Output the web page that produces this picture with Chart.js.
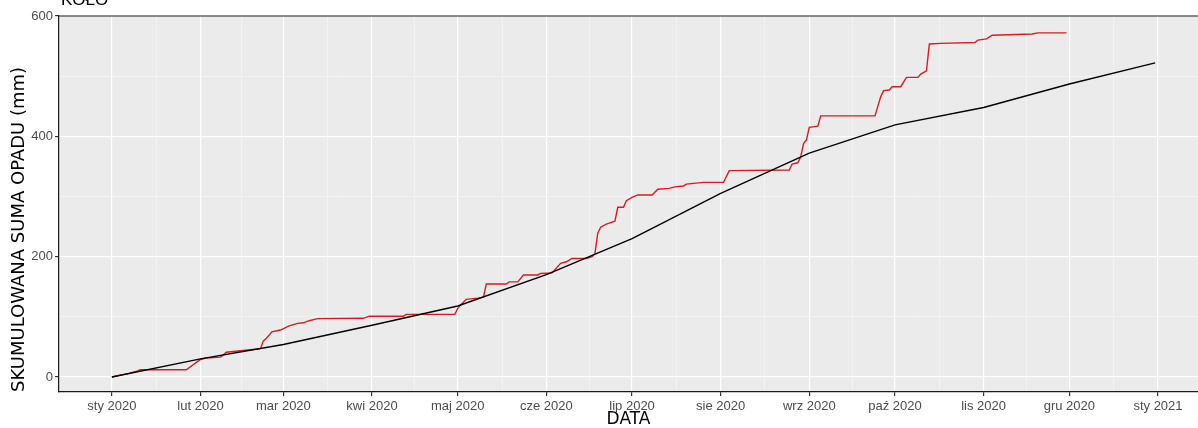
<html>
    <head>
        <meta http-equiv="content-type" content="text/html; charset=UTF-8">
        <script src="https://cdn.jsdelivr.net/npm/chart.js"></script>
        <title>Koło - skumulowana suma opadu 2020</title>
        <style>
            body { margin: 0; background: #ffffff; }
        </style>
    </head>
    <body>
        <div style="position: relative; width: 1198px; height: 428px">
            <canvas id="opad"></canvas>
        </div>

        <script>
            // days counted from 1 Jan 2020
            const monthDays = [0, 31, 60, 91, 121, 152, 182, 213, 244, 274, 305, 335, 366];
            const monthLabels = ['sty 2020', 'lut 2020', 'mar 2020', 'kwi 2020', 'maj 2020', 'cze 2020',
                                 'lip 2020', 'sie 2020', 'wrz 2020', 'paź 2020', 'lis 2020', 'gru 2020', 'sty 2021'];
            const yTicks = [0, 200, 400, 600];
            const yMinorTicks = [100, 300, 500];

            // multi-year normal, cumulative (mm)
            const normDays   = [0, 31, 60, 91, 121, 152, 182, 213, 244, 274, 305, 335, 365];
            const normValues = [0, 30, 54, 86, 118, 170, 230, 305, 372, 419, 448, 487, 522];

            // 2020 observed, cumulative (mm)
            const obsDays = [0, 3, 6, 9, 10, 26, 31, 33, 38, 39, 40, 51, 52, 53, 54, 56, 59, 62, 65, 67,
                             69, 72, 88, 90, 102, 103, 120, 121, 122, 124, 128, 130, 131, 138, 139, 142, 144, 149, 150, 154,
                             157, 159, 161, 166, 168, 169, 170, 171, 173, 176, 177, 179, 180, 182, 184, 189, 191, 195, 197, 200,
                             201, 207, 214, 216, 237, 238, 240, 241, 242, 243, 244, 247, 248, 267, 269, 270, 272, 273, 276, 278,
                             282, 283, 285, 286, 290, 302, 303, 306, 308, 322, 324, 334];
            const obsValues = [0, 3, 6, 10, 12, 12, 29, 31.5, 33, 36.5, 41, 46.5, 47, 60, 64, 75, 78, 85, 89, 90,
                               93.5, 97, 97.5, 101, 101, 104, 104, 114, 119.5, 129, 131, 132.5, 154.5, 154.5, 158, 158, 169.5, 169.5, 172, 173,
                               189, 191.5, 197, 197, 200, 205, 239, 249, 254, 259, 282, 282, 293, 298.5, 302.5, 302.5, 312, 313.5, 316, 317.5,
                               320.5, 323.5, 323.5, 343, 344, 354, 356, 366, 388, 394, 415, 417, 434, 434, 466, 476, 477, 482.5, 482.5, 498,
                               498, 503.5, 509, 553.5, 554.5, 556, 560, 562, 568, 570, 572, 572];

            const minorDays = monthDays.slice(0, -1).map((d, i) => (d + monthDays[i + 1]) / 2);

            const xMin = -18.5, xMax = 380;
            const tickFont = { family: 'Liberation Sans', size: 13 };

            // grey panel, black frame on top and the plot title
            const panel = {
                id: 'panel',
                beforeDraw(chart) {
                    const a = chart.chartArea, c = chart.ctx;
                    c.save();
                    c.fillStyle = '#EBEBEB';
                    c.fillRect(a.left, a.top, a.right - a.left, a.bottom - a.top);
                    c.restore();
                },
                afterDraw(chart) {
                    const a = chart.chartArea, c = chart.ctx;
                    c.save();
                    c.strokeStyle = '#1a1a1a';
                    c.lineWidth = 1.2;
                    c.beginPath();
                    c.moveTo(a.left, a.top);
                    c.lineTo(a.right, a.top);
                    c.stroke();
                    c.fillStyle = '#000000';
                    c.font = '17px "Liberation Sans"';
                    c.textBaseline = 'alphabetic';
                    c.fillText('KOŁO', 61, 5);
                    c.restore();
                }
            };

            var ctx = document.getElementById('opad');
            var chart = new Chart(ctx, {
                type: 'line',
                data: {
                    datasets: [{
                        label: 'norma',
                        data: normDays.map((d, i) => ({ x: d, y: normValues[i] })),
                        borderColor: '#000000',
                        borderWidth: 1.4
                    }, {
                        label: '2020',
                        data: obsDays.map((d, i) => ({ x: d, y: obsValues[i] })),
                        borderColor: '#DF1A1E',
                        borderWidth: 1.4
                    }]
                },
                options: {
                    animation: false,
                    responsive: true,
                    maintainAspectRatio: false,
                    layout: { padding: { top: 16, right: 0, left: 0, bottom: 0 } },
                    elements: { point: { radius: 0 }, line: { tension: 0 } },
                    plugins: { legend: { display: false }, tooltip: { enabled: false } },
                    scales: {
                        x: {
                            type: 'linear',
                            min: xMin,
                            max: xMax,
                            afterBuildTicks: s => { s.ticks = monthDays.map(v => ({ value: v })); },
                            afterFit: s => { s.height = 36; },
                            ticks: {
                                autoSkip: false,
                                maxRotation: 0,
                                padding: 3,
                                color: '#4D4D4D',
                                font: tickFont,
                                callback: (v, i) => monthLabels[i]
                            },
                            grid: { color: '#FFFFFF', lineWidth: 1.2, tickColor: '#333333', tickLength: 4 },
                            border: { display: true, color: '#1a1a1a', width: 1.2 },
                            title: {
                                display: true,
                                text: 'DATA',
                                color: '#000000',
                                font: { family: 'DejaVu Sans', size: 17, lineHeight: 1 },
                                padding: 0
                            }
                        },
                        xMinor: {
                            type: 'linear',
                            position: 'bottom',
                            min: xMin,
                            max: xMax,
                            afterBuildTicks: s => { s.ticks = minorDays.map(v => ({ value: v })); },
                            afterFit: s => { s.height = 0; },
                            ticks: { display: false },
                            grid: { color: '#F6F6F6', lineWidth: 0.7, drawTicks: false },
                            border: { display: false }
                        },
                        y: {
                            min: -25,
                            max: 600,
                            afterBuildTicks: s => { s.ticks = yTicks.map(v => ({ value: v })); },
                            afterFit: s => { s.width = 59; },
                            ticks: { padding: 2, color: '#4D4D4D', font: tickFont },
                            grid: { color: '#FFFFFF', lineWidth: 1.2, tickColor: '#333333', tickLength: 4 },
                            border: { display: true, color: '#1a1a1a', width: 1.2 },
                            title: {
                                display: true,
                                text: 'SKUMULOWANA SUMA OPADU (mm)',
                                align: 'start',
                                color: '#000000',
                                font: { family: 'DejaVu Sans', size: 18, lineHeight: 1 },
                                padding: { top: 10, bottom: 0 }
                            }
                        },
                        yMinor: {
                            position: 'left',
                            min: -25,
                            max: 600,
                            afterBuildTicks: s => { s.ticks = yMinorTicks.map(v => ({ value: v })); },
                            afterFit: s => { s.width = 0; },
                            ticks: { display: false },
                            grid: { color: '#F6F6F6', lineWidth: 0.7, drawTicks: false },
                            border: { display: false }
                        }
                    }
                },
                plugins: [panel]
            });
        </script>
    </body>
</html>
